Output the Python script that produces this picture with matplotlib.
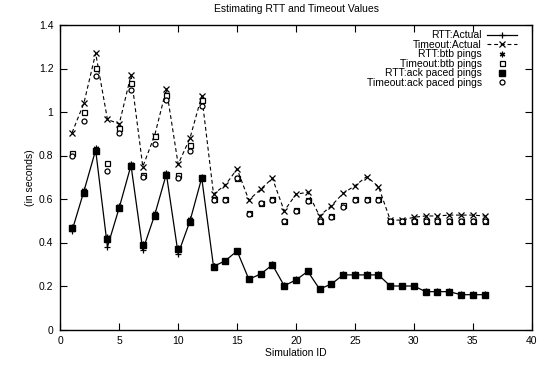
import matplotlib
matplotlib.use("Agg")
import matplotlib.pyplot as plt

plt.rcParams['font.family'] = ['Liberation Sans', 'DejaVu Sans']

sim_id = list(range(1, 37))

rtt_actual = [0.455, 0.635, 0.825, 0.38, 0.56, 0.755, 0.365, 0.525, 0.715, 0.348, 0.498, 0.697,
              0.29, 0.316, 0.361, 0.231, 0.255, 0.297, 0.201, 0.228, 0.267, 0.186, 0.209, 0.251,
              0.251, 0.251, 0.251, 0.2, 0.2, 0.2, 0.174, 0.174, 0.174, 0.16, 0.16, 0.16]
timeout_actual = [0.905, 1.04, 1.27, 0.966, 0.945, 1.17, 0.749, 0.891, 1.106, 0.76, 0.879, 1.074,
                  0.623, 0.664, 0.738, 0.595, 0.645, 0.695, 0.545, 0.622, 0.631, 0.522, 0.569, 0.626,
                  0.661, 0.703, 0.657, 0.503, 0.503, 0.516, 0.522, 0.522, 0.526, 0.526, 0.526, 0.522]
rtt_btb = [0.47, 0.64, 0.835, 0.425, 0.57, 0.76, 0.395, 0.535, 0.72, 0.375, 0.51, 0.70,
           0.29, 0.316, 0.363, 0.233, 0.257, 0.299, 0.203, 0.23, 0.269, 0.188, 0.211, 0.253,
           0.253, 0.253, 0.253, 0.202, 0.202, 0.202, 0.176, 0.176, 0.176, 0.162, 0.162, 0.162]
timeout_btb = [0.81, 1.0, 1.204, 0.764, 0.925, 1.132, 0.71, 0.891, 1.078, 0.709, 0.848, 1.055,
               0.599, 0.599, 0.698, 0.534, 0.583, 0.599, 0.5, 0.549, 0.595, 0.5, 0.522, 0.572,
               0.599, 0.6, 0.6, 0.5, 0.5, 0.5, 0.5, 0.5, 0.5, 0.5, 0.5, 0.5]
rtt_ack = [0.468, 0.629, 0.82, 0.416, 0.56, 0.752, 0.387, 0.522, 0.712, 0.369, 0.496, 0.695,
           0.289, 0.316, 0.361, 0.231, 0.255, 0.297, 0.201, 0.228, 0.267, 0.186, 0.209, 0.251,
           0.251, 0.251, 0.251, 0.2, 0.2, 0.2, 0.174, 0.174, 0.174, 0.159, 0.159, 0.16]
timeout_ack = [0.798, 0.96, 1.167, 0.729, 0.902, 1.101, 0.70, 0.851, 1.055, 0.695, 0.822, 1.029,
               0.597, 0.597, 0.695, 0.53, 0.58, 0.597, 0.497, 0.545, 0.59, 0.497, 0.515, 0.565,
               0.597, 0.597, 0.597, 0.497, 0.497, 0.497, 0.497, 0.497, 0.497, 0.497, 0.497, 0.497]

x_ticks = [0, 5, 10, 15, 20, 25, 30, 35, 40]
y_ticks = [0, 0.2, 0.4, 0.6, 0.8, 1.0, 1.2, 1.4]
y_tick_labels = ["0", "0.2", "0.4", "0.6", "0.8", "1", "1.2", "1.4"]

fig = plt.figure(figsize=(5.41, 3.66), dpi=100)
ax = fig.add_axes([60.3 / 541, 1 - 329.5 / 366, (531.7 - 60.3) / 541, (329.5 - 25) / 366])

ax.plot(sim_id, rtt_actual, color='black', lw=0.9, marker='+', ms=5, mew=0.9, label='RTT:Actual')
ax.plot(sim_id, timeout_actual, color='black', lw=0.8, ls=(0, (3.5, 2.5)), marker='x', ms=3.8, mew=0.9,
        label='Timeout:Actual')
ax.plot(sim_id, rtt_btb, ls='none', color='black', marker=(6, 2, 0), ms=4, mew=0.9, label='RTT:btb pings')
ax.plot(sim_id, timeout_btb, ls='none', color='black', marker='s', ms=3.6, mfc='white', mew=0.9,
        label='Timeout:btb pings')
ax.plot(sim_id, rtt_ack, ls='none', color='black', marker='s', ms=4, label='RTT:ack paced pings')
ax.plot(sim_id, timeout_ack, ls='none', color='black', marker='o', ms=3.6, mfc='white', mew=0.9,
        label='Timeout:ack paced pings')

ax.set_xlim(0, 40)
ax.set_ylim(0, 1.4)
ax.set_xticks(x_ticks)
ax.set_yticks(y_ticks)
ax.set_yticklabels(y_tick_labels)
ax.tick_params(direction='in', length=5, width=0.8, top=True, right=True, labelsize=7.5, pad=5)
for s in ax.spines.values():
    s.set_linewidth(1.0)

ax.set_title('Estimating RTT and Timeout Values', fontsize=7.5, pad=9)
ax.set_xlabel('Simulation ID', fontsize=7.5, labelpad=1)
ax.set_ylabel('(in seconds)', fontsize=7.5, labelpad=3)

leg = ax.legend(loc='upper right', bbox_to_anchor=(0.985, 1.006), frameon=False, markerfirst=False,
                fontsize=7.5, labelspacing=-0.05, handlelength=2.9, handletextpad=0.5,
                borderpad=0.2)

fig.savefig('out.png', dpi=100)
